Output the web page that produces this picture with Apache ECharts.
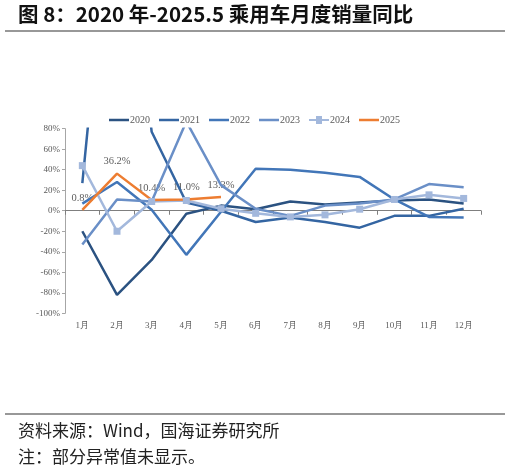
<!DOCTYPE html>
<html>
<head>
<meta charset="utf-8">
<script src="https://cdn.jsdelivr.net/npm/echarts@6/dist/echarts.min.js"></script>
<style>
html,body{margin:0;padding:0;background:#fff;}
#c{width:510px;height:476px;}
</style>
</head>
<body>
<div id="c"></div>
<script>
var months = ['1月','2月','3月','4月','5月','6月','7月','8月','9月','10月','11月','12月'];
var years = ['2020','2021','2022','2023','2024','2025'];
var s2020 = [-20, -82, -48, -3, 5, 1.5, 9, 6, 8, 10, 11, 7];
var s2021 = [27, 370, 77, 8, 0, -11, -6.5, -11, -16.5, -5, -5, 2];
var s2022 = [7, 28, 1, -43, -1, 41, 40, 37, 33, 11, -6, -6.5];
var s2023 = [-33, 11, 9, 87, 25, 2, -5, 5, 7, 11, 26, 23];
var s2024 = [44, -20, 9, 10, 2, -2.5, -6, -4, 1.5, 11, 15.5, 12];
var s2025 = [0.8, 36.2, 10.4, 11.0, 13.3];
var yTicks = {min: -100, max: 80, step: 20};

var colors = ['#2B5281', '#3465A2', '#4276B8', '#6A8FC7', '#A3B8DC', '#ED7D31'];
var serif = '"Liberation Serif","Times New Roman",serif';
var lineIcon = 'path://M0 0H20V2.5H0Z';
var markIcon = 'path://M0 3H7V0H13V3H20V5H13V8H7V5H0Z';

function lineSeries(name, data, color, extra) {
  var s = {
    name: name, type: 'line', data: data, xAxisIndex: 0,
    symbol: 'none', showSymbol: false,
    lineStyle: {color: color, width: 2.5},
    itemStyle: {color: color},
    animation: false
  };
  for (var k in extra) s[k] = extra[k];
  return s;
}

var legendData = years.map(function (y) {
  return {name: y, icon: y === '2024' ? markIcon : lineIcon};
});

var chart = echarts.init(document.getElementById('c'));
chart.setOption({
  animation: false,
  backgroundColor: '#fff',
  graphic: [
    {type: 'text', left: 18, top: 4, style: {text: '图 8：2020 年-2025.5 乘用车月度销量同比', font: 'bold 20.5px "Noto Sans CJK SC", Arial, sans-serif', fill: '#111'}},
    {type: 'line', shape: {x1: 5, y1: 31, x2: 505, y2: 31}, style: {stroke: '#333', lineWidth: 1.2}},
    {type: 'line', shape: {x1: 5, y1: 414, x2: 505, y2: 414}, style: {stroke: '#333', lineWidth: 1.2}},
    {type: 'text', left: 18, top: 422, style: {text: '资料来源：Wind，国海证券研究所', font: '17px "Noto Sans CJK SC", sans-serif', fill: '#222'}},
    {type: 'text', left: 18, top: 448, style: {text: '注：部分异常值未显示。', font: '17px "Noto Sans CJK SC", sans-serif', fill: '#222'}}
  ],
  legend: {
    data: legendData,
    left: 109, top: 115, padding: 0,
    itemWidth: 20, itemHeight: 8, itemGap: 9, symbolKeepAspect: true,
    textStyle: {fontFamily: serif, fontSize: 10, color: '#595959', padding: [0,0,0,-4]}
  },
  grid: {left: 65, right: 29, top: 128.7, bottom: 162.7, containLabel: false},
  xAxis: [
    {type: 'category', data: months, position: 'bottom', boundaryGap: true,
     axisLine: {show: false, onZero: false}, axisTick: {show: false},
     axisLabel: {fontFamily: serif, fontSize: 9, color: '#595959', margin: 8}},
    {type: 'category', data: months, position: 'bottom', boundaryGap: true,
     axisLine: {show: true, onZero: true, lineStyle: {color: '#7F7F7F', width: 1}},
     axisTick: {show: true, length: 4, interval: 0, lineStyle: {color: '#7F7F7F'}},
     axisLabel: {show: false}}
  ],
  yAxis: {
    type: 'value', min: yTicks.min, max: yTicks.max, interval: yTicks.step,
    axisLine: {show: true, lineStyle: {color: '#A6A6A6'}},
    axisTick: {show: true, length: 3, lineStyle: {color: '#A6A6A6'}},
    splitLine: {show: false},
    axisLabel: {formatter: '{value}%', fontFamily: serif, fontSize: 9, color: '#595959', margin: 5}
  },
  series: [
    lineSeries('2020', s2020, colors[0]),
    lineSeries('2021', s2021, colors[1]),
    lineSeries('2022', s2022, colors[2]),
    lineSeries('2023', s2023, colors[3]),
    lineSeries('2024', s2024, colors[4], {symbol: 'rect', showSymbol: true, symbolSize: 7}),
    lineSeries('2025', s2025, colors[5]),
    {name: '2025标签', type: 'scatter', data: s2025, xAxisIndex: 0, symbolSize: 1,
     itemStyle: {color: 'rgba(0,0,0,0)'}, silent: true,
     label: {show: true, position: 'top', distance: 6, formatter: function(p){return p.value.toFixed(1) + '%';},
             fontFamily: serif, fontSize: 10.5, color: '#333'}}
  ]
});
</script>
</body>
</html>
